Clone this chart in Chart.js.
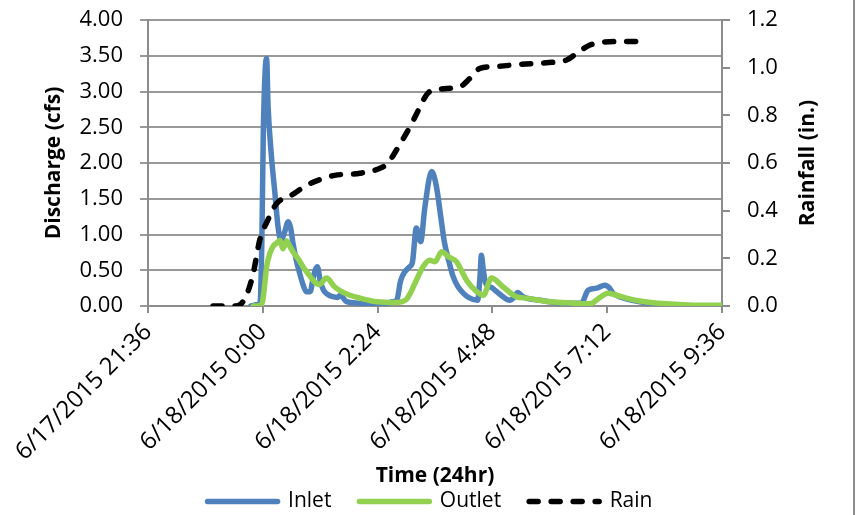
<!DOCTYPE html>
<html>
<head>
<meta charset="utf-8">
<script src="https://cdn.jsdelivr.net/npm/chart.js@4"></script>
<style>
  body { margin: 0; background: #fff; }
</style>
</head>
<body>
<canvas id="myChart" width="860" height="515"></canvas>
<script>
// time is in hours after 6/18/2015 0:00
var tickHours = [-2.4, 0, 2.4, 4.8, 7.2, 9.6];
var tickLabels = ['6/17/2015 21:36', '6/18/2015 0:00', '6/18/2015 2:24', '6/18/2015 4:48', '6/18/2015 7:12', '6/18/2015 9:36'];

var inletTime = [-0.25, -0.1, -0.06, -0.02, 0.01, 0.05, 0.08, 0.11, 0.18, 0.25, 0.32, 0.38, 0.46, 0.53, 0.58, 0.63, 0.70, 0.77, 0.84, 0.91,
  0.99, 1.06, 1.14, 1.20, 1.27, 1.36, 1.46, 1.56, 1.62, 1.75, 2.0, 2.3, 2.55, 2.7, 2.8, 2.88, 2.97, 3.07, 3.13, 3.21,
  3.30, 3.39, 3.53, 3.63, 3.72, 3.80, 3.90, 3.98, 4.08, 4.19, 4.30, 4.49, 4.54, 4.57, 4.61, 4.66, 4.78, 4.89, 5.00, 5.16,
  5.25, 5.33, 5.42, 5.51, 5.80, 6.10, 6.35, 6.66, 6.80, 6.98, 7.15, 7.25, 7.32, 7.50, 7.88, 8.20, 8.57, 9.00, 9.60];
var inletFlow = [0, 0.02, 0.04, 0.9, 2.4, 3.3, 3.46, 2.8, 2.1, 1.6, 1.1, 0.92, 1.04, 1.18, 1.1, 0.88, 0.64, 0.46, 0.3, 0.2,
  0.2, 0.42, 0.55, 0.35, 0.22, 0.16, 0.13, 0.12, 0.15, 0.06, 0.04, 0.02, 0.02, 0.06, 0.08, 0.35, 0.48, 0.55, 0.62, 1.09,
  0.9, 1.39, 1.88, 1.67, 1.25, 0.88, 0.6, 0.41, 0.27, 0.18, 0.12, 0.08, 0.4, 0.71, 0.5, 0.32, 0.26, 0.2, 0.14, 0.08,
  0.12, 0.19, 0.14, 0.11, 0.08, 0.05, 0.04, 0.04, 0.22, 0.25, 0.29, 0.25, 0.18, 0.12, 0.06, 0.03, 0.01, 0, 0];

var outletTime = [-0.2, -0.05, 0.0, 0.04, 0.08, 0.15, 0.22, 0.29, 0.36, 0.42, 0.50, 0.56, 0.63, 0.75, 0.84, 0.95, 1.05, 1.18, 1.33, 1.50,
  1.65, 1.82, 2.03, 2.38, 2.8, 3.0, 3.1, 3.21, 3.35, 3.49, 3.60, 3.74, 3.88, 4.05, 4.15, 4.26, 4.47, 4.61, 4.78, 5.02,
  5.30, 5.51, 6.00, 6.50, 6.84, 7.05, 7.22, 7.39, 7.60, 7.88, 8.44, 9.00, 9.60];
var outletFlow = [0, 0.01, 0.08, 0.3, 0.55, 0.74, 0.84, 0.88, 0.92, 0.80, 0.91, 0.84, 0.76, 0.65, 0.55, 0.45, 0.36, 0.30, 0.39, 0.27,
  0.2, 0.15, 0.11, 0.06, 0.05, 0.09, 0.2, 0.36, 0.55, 0.64, 0.62, 0.76, 0.69, 0.62, 0.5, 0.36, 0.2, 0.15, 0.39, 0.27,
  0.13, 0.11, 0.06, 0.04, 0.03, 0.12, 0.18, 0.15, 0.11, 0.07, 0.03, 0.01, 0.01];

var rainTime = [-1.04, -0.58, -0.45, -0.34, -0.2, -0.06, 0.08, 0.29, 0.56, 0.95, 1.19, 1.5, 2.03, 2.45, 2.62, 2.75, 2.9, 3.07, 3.2, 3.32,
  3.46, 3.7, 4.12, 4.33, 4.54, 4.89, 5.37, 5.93, 6.35, 6.56, 6.84, 7.25, 8.02];
var rainDepth = [0, 0, 0.01, 0.045, 0.137, 0.28, 0.35, 0.43, 0.46, 0.51, 0.53, 0.548, 0.557, 0.578, 0.60, 0.64, 0.69, 0.75, 0.80, 0.85,
  0.895, 0.91, 0.92, 0.955, 0.997, 1.005, 1.014, 1.021, 1.032, 1.06, 1.095, 1.109, 1.11];

const axisGray = '#8c8c8c';
const font = 'Open Sans';

function points(xs, ys) {
  return xs.map((x, i) => ({ x: x, y: ys[i] }));
}

// y axes: fixed width, and no extra room reserved for the end labels
function fixWidth(w) {
  return s => {
    s.width = w;
    s.paddingTop = 0;
    s.paddingBottom = 0;
  };
}

// right axis title reads bottom-to-top, plus the right edge of the chart frame
const extras = {
  id: 'extras',
  afterDraw(chart) {
    const c = chart.ctx;
    const a = chart.chartArea;
    const r = chart.scales.y1;
    c.save();
    c.fillStyle = '#000';
    c.font = 'bold 21px "' + font + '"';
    c.textAlign = 'center';
    c.textBaseline = 'middle';
    c.translate(r.right - 52, (a.top + a.bottom) / 2);
    c.rotate(-Math.PI / 2);
    c.fillText('Rainfall (in.)', 0, 0);
    c.restore();

    c.save();
    c.strokeStyle = axisGray;
    c.lineWidth = 2;
    c.beginPath();
    c.moveTo(chart.width - 6, 0);
    c.lineTo(chart.width - 6, chart.height);
    c.stroke();
    c.restore();
  }
};

// legend samples take the width and dash of the line itself
function legendItems(chart) {
  return Chart.defaults.plugins.legend.labels.generateLabels(chart).map(item => {
    const ds = chart.data.datasets[item.datasetIndex];
    item.lineWidth = ds.borderWidth;
    item.lineDash = ds.borderDash || [];
    item.strokeStyle = ds.borderColor;
    item.lineCap = 'round';
    return item;
  });
}

var ctx = document.getElementById('myChart').getContext('2d');
var myChart = new Chart(ctx, {
  type: 'line',
  data: {
    datasets: [{
      label: 'Inlet',
      data: points(inletTime, inletFlow),
      borderColor: '#4f81bd',
      backgroundColor: '#4f81bd',
      borderWidth: 5.5,
      yAxisID: 'y',
      order: 2
    }, {
      label: 'Outlet',
      data: points(outletTime, outletFlow),
      borderColor: '#92d050',
      backgroundColor: '#92d050',
      borderWidth: 5.5,
      yAxisID: 'y',
      order: 1
    }, {
      label: 'Rain',
      data: points(rainTime, rainDepth),
      borderColor: '#000',
      backgroundColor: '#000',
      borderWidth: 5.5,
      borderDash: [9, 13],
      yAxisID: 'y1',
      order: 0
    }]
  },
  options: {
    responsive: false,
    animation: false,
    elements: {
      point: { radius: 0 },
      line: { cubicInterpolationMode: 'monotone', borderCapStyle: 'round', borderJoinStyle: 'round' }
    },
    layout: { padding: { left: 0, right: 0, top: 20, bottom: 0 } },
    plugins: {
      tooltip: { enabled: false },
      legend: {
        position: 'bottom',
        maxHeight: 52,
        labels: {
          usePointStyle: true,
          pointStyle: 'line',
          pointStyleWidth: 70,
          padding: 28,
          color: '#000',
          font: { family: font, size: 21 },
          generateLabels: legendItems,
          sort: (a, b) => a.datasetIndex - b.datasetIndex
        }
      }
    },
    scales: {
      x: {
        type: 'linear',
        min: -2.4,
        max: 9.6,
        afterBuildTicks: s => { s.ticks = tickHours.map(v => ({ value: v })); },
        afterFit: s => { s.height = 157; },
        ticks: {
          callback: v => tickLabels[tickHours.indexOf(v)],
          minRotation: 45,
          maxRotation: 45,
          autoSkip: false,
          padding: 5,
          color: '#000',
          font: { family: font, size: 24 }
        },
        grid: { drawOnChartArea: false, tickLength: 7, color: axisGray, lineWidth: 2 },
        border: { color: axisGray, width: 2 },
        title: {
          display: true,
          text: 'Time (24hr)',
          color: '#000',
          font: { family: font, size: 21, weight: 'bold' },
          padding: { top: 0, bottom: -26 }
        }
      },
      y: {
        position: 'left',
        min: 0,
        max: 4,
        afterFit: fixWidth(148),
        ticks: {
          stepSize: 0.5,
          padding: 17,
          callback: v => v.toFixed(2),
          color: '#000',
          font: { family: font, size: 22 }
        },
        grid: { color: '#999', lineWidth: 2, tickLength: 8 },
        border: { color: axisGray, width: 2 },
        title: {
          display: true,
          text: 'Discharge (cfs)',
          color: '#000',
          font: { family: font, size: 21, weight: 'bold' },
          padding: { top: 41, bottom: 0 }
        }
      },
      y1: {
        position: 'right',
        min: 0,
        max: 1.2,
        afterFit: fixWidth(138),
        ticks: {
          stepSize: 0.2,
          padding: 17,
          callback: v => v.toFixed(1),
          color: '#000',
          font: { family: font, size: 22 }
        },
        grid: { drawOnChartArea: false, tickLength: 8, color: axisGray, lineWidth: 2 },
        border: { color: axisGray, width: 2 }
      }
    }
  },
  plugins: [extras]
});
</script>
</body>
</html>
